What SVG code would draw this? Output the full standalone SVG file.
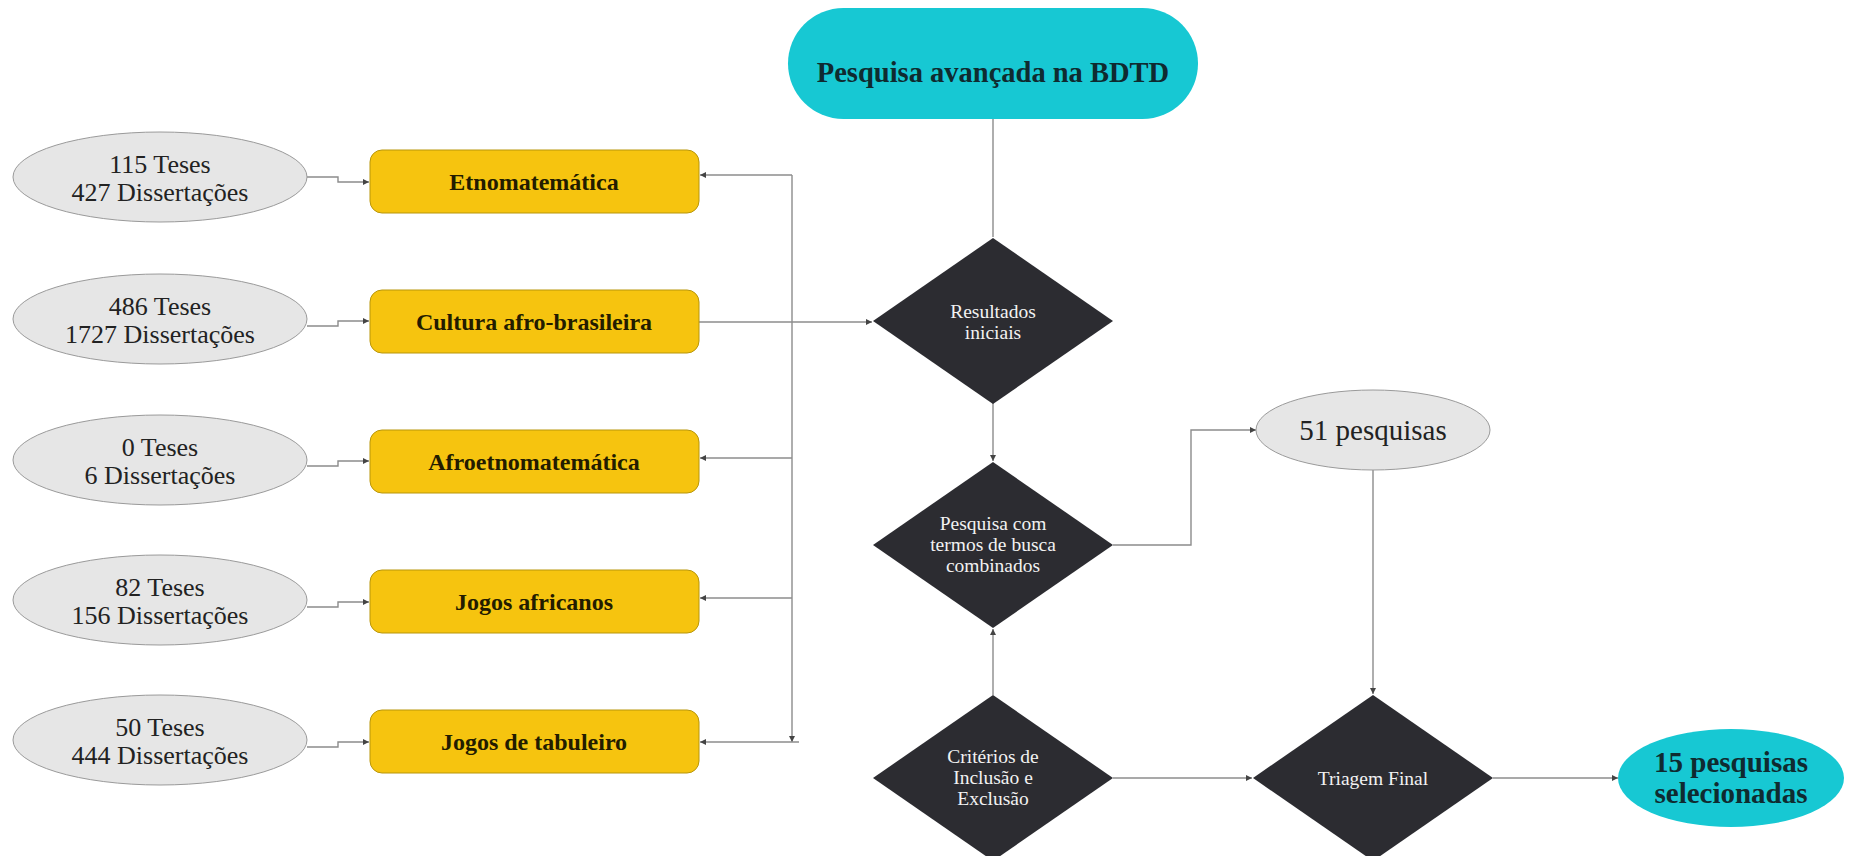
<svg xmlns="http://www.w3.org/2000/svg" width="1862" height="856" viewBox="0 0 1862 856">
<style>
.ell{fill:#e6e6e6;stroke:#9a9a9a;stroke-width:1}
.box{fill:#f6c40f;stroke:#b8960a;stroke-width:1}
.cyan{fill:#17c8d3;stroke:none}
.dia{fill:#2c2c31;stroke:none}
.conn{fill:none;stroke:#8c8c8c;stroke-width:1.4}
.t-ell{font-family:"Liberation Serif",serif;font-size:26px;fill:#222;text-anchor:middle}
.t-box{font-family:"Liberation Serif",serif;font-size:24px;font-weight:bold;fill:#231c00;text-anchor:middle}
.t-dia{font-family:"Liberation Serif",serif;font-size:19.5px;fill:#f2f2f2;text-anchor:middle}
.t-cyan{font-family:"Liberation Serif",serif;font-weight:bold;fill:#0f2b30;text-anchor:middle}
</style>
<defs>
<marker id="arr" markerWidth="7" markerHeight="6" refX="6" refY="3" orient="auto" markerUnits="userSpaceOnUse">
<path d="M0,0 L6,3 L0,6 Z" fill="#444"/>
</marker>
</defs>
<rect width="1862" height="856" fill="#ffffff"/>

<g id="connectors">
<path class="conn" d="M993,119 L993,237"/>
<path class="conn" d="M993,403 L993,461" marker-end="url(#arr)"/>
<path class="conn" d="M993,695 L993,629" marker-end="url(#arr)"/>
<path class="conn" d="M1113,545 L1191,545 L1191,430 L1256,430" marker-end="url(#arr)"/>
<path class="conn" d="M1373,470 L1373,694" marker-end="url(#arr)"/>
<path class="conn" d="M1113,778 L1252,778" marker-end="url(#arr)"/>
<path class="conn" d="M1493,778 L1618,778" marker-end="url(#arr)"/>
<path class="conn" d="M792,175 L792,742" marker-end="url(#arr)"/>
<path class="conn" d="M792,175 L700,175" marker-end="url(#arr)"/>
<path class="conn" d="M699,322 L872,322" marker-end="url(#arr)"/>
<path class="conn" d="M792,458 L700,458" marker-end="url(#arr)"/>
<path class="conn" d="M792,598 L700,598" marker-end="url(#arr)"/>
<path class="conn" d="M799,742 L700,742" marker-end="url(#arr)"/>
<path class="conn" d="M307,177 L338,177 L338,182 L369,182" marker-end="url(#arr)"/>
<path class="conn" d="M307,326 L338,326 L338,321 L369,321" marker-end="url(#arr)"/>
<path class="conn" d="M307,466 L338,466 L338,461 L369,461" marker-end="url(#arr)"/>
<path class="conn" d="M307,607 L338,607 L338,602 L369,602" marker-end="url(#arr)"/>
<path class="conn" d="M307,747 L338,747 L338,742 L369,742" marker-end="url(#arr)"/>
</g>

<g id="start">
<rect class="cyan" x="788" y="8" width="410" height="111" rx="55.5"/>
<text class="t-cyan" x="993" y="82" font-size="28.5">Pesquisa avançada na BDTD</text>
</g>

<g id="e1"><ellipse class="ell" cx="160" cy="177" rx="147" ry="45"/>
<text class="t-ell" x="160" y="173">115 Teses</text><text class="t-ell" x="160" y="201">427 Dissertações</text></g>
<g id="e2"><ellipse class="ell" cx="160" cy="319" rx="147" ry="45"/>
<text class="t-ell" x="160" y="315">486 Teses</text><text class="t-ell" x="160" y="343">1727 Dissertações</text></g>
<g id="e3"><ellipse class="ell" cx="160" cy="460" rx="147" ry="45"/>
<text class="t-ell" x="160" y="456">0 Teses</text><text class="t-ell" x="160" y="484">6 Dissertações</text></g>
<g id="e4"><ellipse class="ell" cx="160" cy="600" rx="147" ry="45"/>
<text class="t-ell" x="160" y="596">82 Teses</text><text class="t-ell" x="160" y="624">156 Dissertações</text></g>
<g id="e5"><ellipse class="ell" cx="160" cy="740" rx="147" ry="45"/>
<text class="t-ell" x="160" y="736">50 Teses</text><text class="t-ell" x="160" y="764">444 Dissertações</text></g>

<g id="b1"><rect class="box" x="370" y="150" width="329" height="63" rx="12"/>
<text class="t-box" x="534" y="190">Etnomatemática</text></g>
<g id="b2"><rect class="box" x="370" y="290" width="329" height="63" rx="12"/>
<text class="t-box" x="534" y="330">Cultura afro-brasileira</text></g>
<g id="b3"><rect class="box" x="370" y="430" width="329" height="63" rx="12"/>
<text class="t-box" x="534" y="470">Afroetnomatemática</text></g>
<g id="b4"><rect class="box" x="370" y="570" width="329" height="63" rx="12"/>
<text class="t-box" x="534" y="610">Jogos africanos</text></g>
<g id="b5"><rect class="box" x="370" y="710" width="329" height="63" rx="12"/>
<text class="t-box" x="534" y="750">Jogos de tabuleiro</text></g>

<g id="d1"><path class="dia" d="M993,238 L1113,321 L993,404 L873,321 Z"/>
<text class="t-dia" x="993" y="318">Resultados</text><text class="t-dia" x="993" y="339">iniciais</text></g>
<g id="d2"><path class="dia" d="M993,462 L1113,545 L993,628 L873,545 Z"/>
<text class="t-dia" x="993" y="530">Pesquisa com</text><text class="t-dia" x="993" y="551">termos de busca</text><text class="t-dia" x="993" y="572">combinados</text></g>
<g id="d3"><path class="dia" d="M993,695 L1113,778 L993,861 L873,778 Z"/>
<text class="t-dia" x="993" y="763">Critérios de</text><text class="t-dia" x="993" y="784">Inclusão e</text><text class="t-dia" x="993" y="805">Exclusão</text></g>
<g id="d4"><path class="dia" d="M1373,695 L1493,778 L1373,861 L1253,778 Z"/>
<text class="t-dia" x="1373" y="785">Triagem Final</text></g>

<g id="e51"><ellipse class="ell" cx="1373" cy="430" rx="117" ry="40"/>
<text class="t-ell" x="1373" y="440" style="font-size:29px">51 pesquisas</text></g>

<g id="end"><ellipse class="cyan" cx="1731" cy="778" rx="113" ry="49"/>
<text class="t-cyan" x="1731" y="772" font-size="29">15 pesquisas</text>
<text class="t-cyan" x="1731" y="803" font-size="29">selecionadas</text></g>
</svg>
